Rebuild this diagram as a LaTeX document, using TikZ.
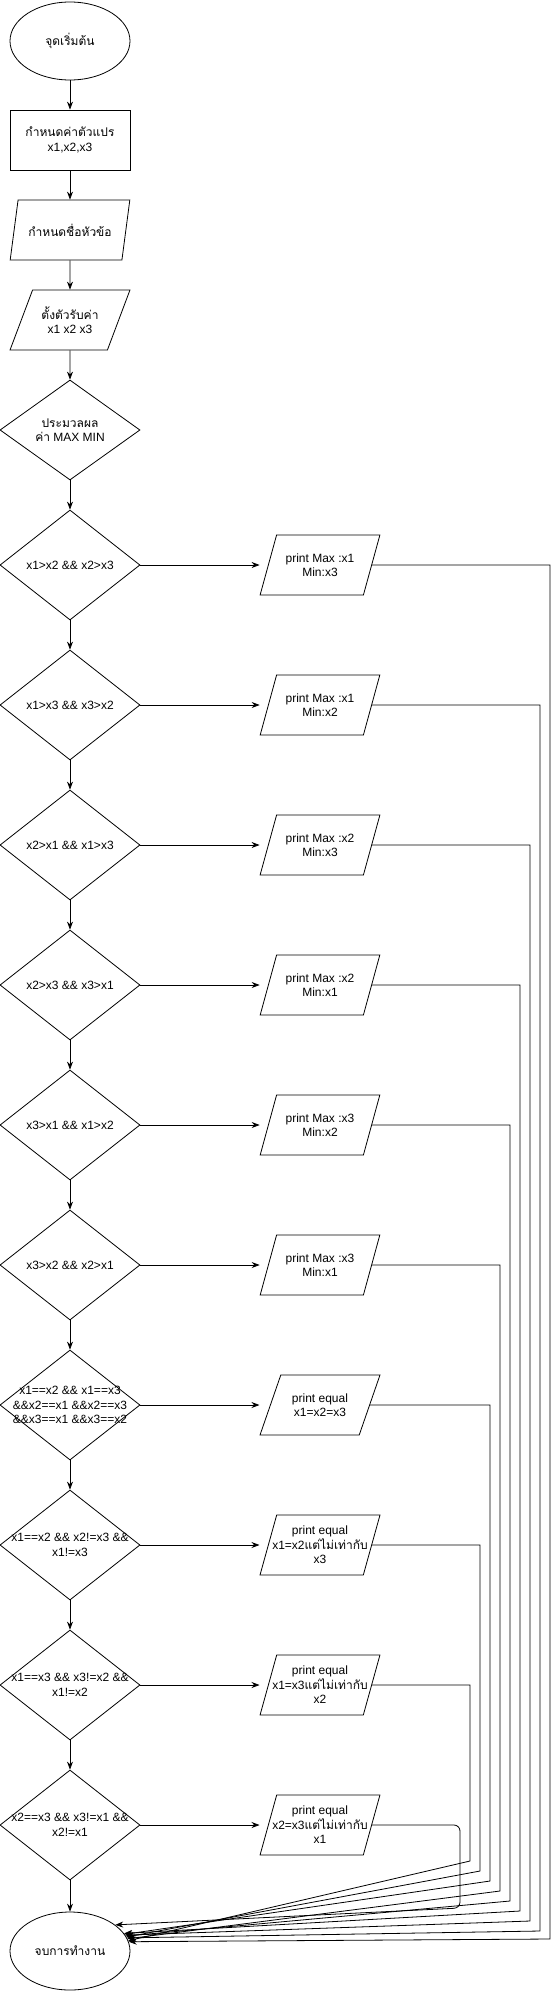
\documentclass[tikz,border=0pt]{standalone}
\usepackage{fontspec}
\setmainfont{Liberation Sans}
\newfontfamily\thaifont[Script=Thai]{Loma}
\usetikzlibrary{shapes.geometric, arrows.meta}

\tikzset{
    terminal/.style = {draw, ellipse, minimum width = 120pt, minimum height = 78pt, inner sep = 0pt, align = center},
    process/.style = {draw, rectangle, minimum width = 120pt, minimum height = 60pt, align = center},
    io/.style = {draw, trapezium, trapezium left angle = 70, trapezium right angle = 110, trapezium stretches = true,
        minimum width = 120pt, minimum height = 60pt, inner xsep = -12pt, inner ysep = 0pt, align = center},
    decision/.style = {draw, diamond, shape aspect = 1.27, minimum width = 140pt, minimum height = 110pt,
        inner sep = -8pt, align = center},
    flow/.style = {draw, line width = 0.8pt, -{Stealth[length = 8pt, width = 6pt]}},
    every node/.append style = {line width = 0.8pt},
}

\begin{document}
\begin{tikzpicture}[x = 1pt, y = -1pt, font = \fontsize{12pt}{14.5pt}\selectfont]
        \useasboundingbox (0, 0) rectangle (559, 1991);

        \node [terminal] (s) at (70, 41) {\thaifont จุดเริ่มต้น};
        \node [process] (v) at (70, 140) {{\thaifont กำหนดค่าตัวแปร}\\x1,x2,x3};
        \node [io] (t) at (70, 230) {\thaifont กำหนดชื่อหัวข้อ};
        \node [io] (r) at (70, 320) {{\thaifont ตั้งตัวรับค่า}\\x1 x2 x3};
        \node [decision, minimum height = 100pt] (m) at (70, 430) {{\thaifont ประมวลผล}\\{\thaifont ค่า} MAX MIN};

        \node [decision] (d1) at (70, 565) {x1>x2 \&\& x2>x3};
        \node [decision] (d2) at (70, 705) {x1>x3 \&\& x3>x2};
        \node [decision] (d3) at (70, 845) {x2>x1 \&\& x1>x3};
        \node [decision] (d4) at (70, 985) {x2>x3 \&\& x3>x1};
        \node [decision] (d5) at (70, 1125) {x3>x1 \&\& x1>x2};
        \node [decision] (d6) at (70, 1265) {x3>x2 \&\& x2>x1};
        \node [decision] (d7) at (70, 1405) {x1==x2 \&\& x1==x3\\\&\&x2==x1 \&\&x2==x3\\\&\&x3==x1 \&\&x3==x2};
        \node [decision] (d8) at (70, 1545) {x1==x2 \&\& x2!=x3 \&\&\\x1!=x3};
        \node [decision] (d9) at (70, 1685) {x1==x3 \&\& x3!=x2 \&\&\\x1!=x2};
        \node [decision] (d10) at (70, 1825) {x2==x3 \&\& x3!=x1 \&\&\\x2!=x1};
        \node [terminal] (e) at (70, 1951) {\thaifont จบการทำงาน};

        \node [io] (p1) at (320, 565) {print Max :x1\\Min:x3};
        \node [io] (p2) at (320, 705) {print Max :x1\\Min:x2};
        \node [io] (p3) at (320, 845) {print Max :x2\\Min:x3};
        \node [io] (p4) at (320, 985) {print Max :x2\\Min:x1};
        \node [io] (p5) at (320, 1125) {print Max :x3\\Min:x2};
        \node [io] (p6) at (320, 1265) {print Max :x3\\Min:x1};
        \node [io] (p7) at (320, 1405) {print equal\\x1=x2=x3};
        \node [io] (p8) at (320, 1545) {print equal\\x1=x2{\thaifont แต่ไม่เท่ากับ}\\x3};
        \node [io] (p9) at (320, 1685) {print equal\\x1=x3{\thaifont แต่ไม่เท่ากับ}\\x2};
        \node [io] (p10) at (320, 1825) {print equal\\x2=x3{\thaifont แต่ไม่เท่ากับ}\\x1};

        \coordinate (c1) at (550, 1939);
        \coordinate (c2) at (540, 1931);
        \coordinate (c3) at (530, 1921);
        \coordinate (c4) at (520, 1911);
        \coordinate (c5) at (510, 1901);
        \coordinate (c6) at (500, 1891);
        \coordinate (c7) at (490, 1881);
        \coordinate (c8) at (480, 1871);
        \coordinate (c9) at (470, 1861);
        \coordinate (c10) at (460, 1908);

        \draw [flow] (s) -- (v);
        \draw [flow] (v) -- (t);
        \draw [flow] (t) -- (r);
        \draw [flow] (r) -- (m);
        \draw [flow] (m) -- (d1);
        \draw [flow] (d1) -- (d2);
        \draw [flow] (d2) -- (d3);
        \draw [flow] (d3) -- (d4);
        \draw [flow] (d4) -- (d5);
        \draw [flow] (d5) -- (d6);
        \draw [flow] (d6) -- (d7);
        \draw [flow] (d7) -- (d8);
        \draw [flow] (d8) -- (d9);
        \draw [flow] (d9) -- (d10);
        \draw [flow] (d10) -- (e);

        \draw [flow] (d1.east) -- (d1.east -| p1.bottom left corner);
        \draw [flow] (d2.east) -- (d2.east -| p2.bottom left corner);
        \draw [flow] (d3.east) -- (d3.east -| p3.bottom left corner);
        \draw [flow] (d4.east) -- (d4.east -| p4.bottom left corner);
        \draw [flow] (d5.east) -- (d5.east -| p5.bottom left corner);
        \draw [flow] (d6.east) -- (d6.east -| p6.bottom left corner);
        \draw [flow] (d7.east) -- (d7.east -| p7.bottom left corner);
        \draw [flow] (d8.east) -- (d8.east -| p8.bottom left corner);
        \draw [flow] (d9.east) -- (d9.east -| p9.bottom left corner);
        \draw [flow] (d10.east) -- (d10.east -| p10.bottom left corner);

        \draw [flow] (p1.east) -| (c1) -- (e.9);
        \draw [flow] (p2.east) -| (c2) -- (e.13);
        \draw [flow] (p3.east) -| (c3) -- (e.16);
        \draw [flow] (p4.east) -| (c4) -- (e.18);
        \draw [flow] (p5.east) -| (c5) -- (e.15);
        \draw [flow] (p6.east) -| (c6) -- (e.12);
        \draw [flow] (p7.east) -| (c7) -- (e.17);
        \draw [flow] (p8.east) -| (c8) -- (e.14);
        \draw [flow] (p9.east) -| (c9) -- (e.10);
        \draw [flow, rounded corners = 6pt] (p10.east) -| (c10) -- (e.30);
    \end{tikzpicture}
\end{document}
